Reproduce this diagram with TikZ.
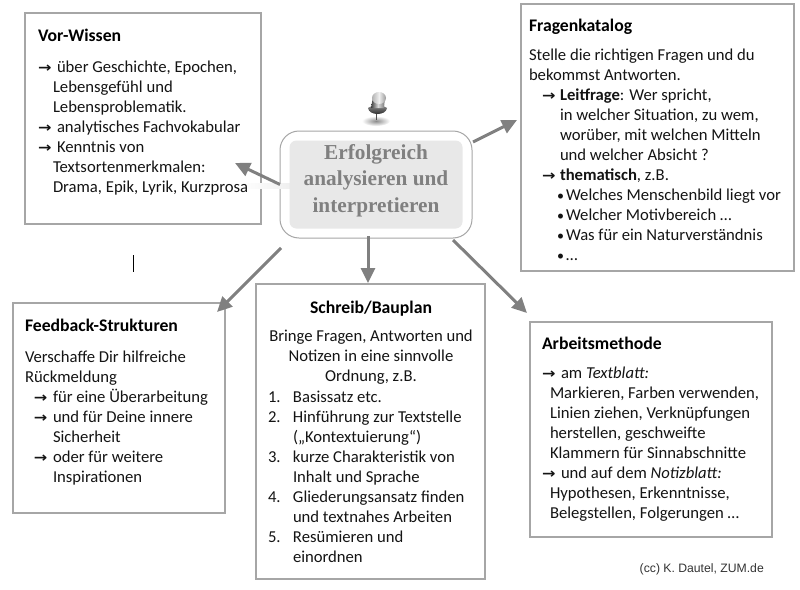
\documentclass[tikz,border=0pt]{standalone}
\usepackage{graphicx}
\usepackage{fontspec}
\usetikzlibrary{arrows.meta,calc}
\setmainfont{Carlito}
\newfontfamily\hubfont{Liberation Serif}
\newfontfamily\arrowfont{DejaVu Sans}
\newfontfamily\ccfont{Liberation Sans}
\definecolor{boxline}{HTML}{A6A6A6}
\definecolor{conn}{HTML}{808080}
\newcommand\arrw[1]{\makebox[#1pt][l]{\scalebox{1.15}[1]{\arrowfont\bfseries\fontsize{14}{20}\selectfont →}}}
\newcommand\bull{\makebox[9pt][l]{\fontsize{14}{20}\selectfont •}}
\newcommand\ind[1]{\hspace*{#1pt}}
\newcommand\numb[1]{\makebox[25pt][l]{#1.}}
\newcommand\blockL[2]{\parbox[t]{#1pt}{\raggedright\hyphenpenalty=10000 #2}}
\newcommand\blockC[2]{\parbox[t]{#1pt}{\centering #2}}
\tikzset{
  x=1pt,y=-1pt,
  box/.style={draw=boxline,line width=1.6pt,fill=white,inner sep=0pt,outer sep=0pt},
  txt/.style={anchor=base west,inner sep=0pt,outer sep=0pt,text=black!92,font=\fontsize{16.65}{20}\selectfont},
  txtc/.style={txt,anchor=base},
  head/.style={txt,font=\fontsize{17.7}{20}\selectfont\bfseries,text=black},
  headc/.style={head,anchor=base},
  conn/.style={draw=conn,line width=3pt,-{Triangle[length=15pt,width=14pt]}},
}
\begin{document}
\begin{tikzpicture}
\useasboundingbox (0,0) rectangle (800,589);
\fill[white] (0,0) rectangle (800,589);
% boxes
\node[box,minimum width=236pt,minimum height=211pt] (vor) at (143,118.5) {};
\node[box,minimum width=273pt,minimum height=267pt] (frag) at (657.5,137.5) {};
\node[box,minimum width=229pt,minimum height=295pt] (plan) at (370.5,431.5) {};
\node[box,minimum width=212pt,minimum height=210pt] (feed) at (119,408) {};
\node[box,minimum width=242pt,minimum height=215pt] (meth) at (651,429.5) {};
% hub
\node[draw=black!35,line width=1pt,fill=white,rounded corners=19pt,minimum width=192pt,minimum height=107pt,inner sep=0pt,outer sep=0pt] (hub) at (376,184.5) {};
\shade[left color=white,right color=black!7] (240,183.5) rectangle (296,188.5);
\node[fill=black!9,rounded corners=7pt,minimum width=173pt,minimum height=88pt,inner sep=0pt,outer sep=0pt] (hubinner) at (hub.center) {};
\node[anchor=base,inner sep=0pt,text=black!50,font=\hubfont\bfseries\fontsize{21.3}{26.5}\selectfont] (hubtext) at (376,159) {\blockC{170}{Erfolgreich\\analysieren und\\interpretieren}};
% pin
\shade[inner color=black!45,outer color=white] (376,121) ellipse (14 and 5);
\fill[black!70] (375.5,113) rectangle (377,120);
\shade[top color=black!40,bottom color=black!90] (368,108) .. controls (373,104) and (382,104) .. (387,108) .. controls (386,116) and (369,116) .. (368,108) -- cycle;
\shade[left color=black!75,right color=black!55,middle color=black!15] (373,97) -- (385,97) -- (384,108) -- (371,108) -- cycle;
\shade[left color=black!30,right color=black!40,middle color=black!6] (379,98) ellipse (7 and 6);
% cursor
\draw[black,line width=1pt] (133.5,255) -- (133.5,272);
% connectors
\draw[conn] (hub.west) -- ($(vor.south east)+(-26,-61)$);
\draw[conn] ($(hub.north east)+(1,11)$) -- ($(frag.west)+(-4,-17.5)$);
\draw[conn] ($(hub.south)+(-8,-2)$) -- ($(plan.north)+(-2.5,-1)$);
\draw[conn] ($(hub.south west)+(1,10)$) -- ($(feed.north east)+(-8,9)$);
\draw[conn] ($(hub.south east)+(-19,2)$) -- ($(meth.north west)+(-3,-9)$);
% Vor-Wissen
\node[head] (vorh) at (38,41) {Vor-Wissen};
\node[txt] (vorb) at (38,72) {\blockL{215}{\arrw{19}über Geschichte, Epochen,\\\ind{15}Lebensgefühl und\\\ind{15}Lebensproblematik.\\\arrw{19}analytisches Fachvokabular\\\arrw{19}Kenntnis von\\\ind{15}Textsortenmerkmalen:\\\ind{15}Drama, Epik, Lyrik, Kurzprosa}};
% Fragenkatalog
\node[head] (fragh) at (529,31) {Fragenkatalog};
\node[txt] (fragb) at (529,60) {\blockL{260}{Stelle die richtigen Fragen und du\\bekommst Antworten.\\\ind{13}\arrw{18}\textbf{Leitfrage}: Wer spricht,\\\ind{31}in welcher Situation, zu wem,\\\ind{31}worüber, mit welchen Mitteln\\\ind{31}und welcher Absicht ?\\\ind{13}\arrw{18}\textbf{thematisch}, z.B.\\\ind{28}\bull Welches Menschenbild liegt vor\\\ind{28}\bull Welcher Motivbereich …\\\ind{28}\bull Was für ein Naturverständnis\\\ind{28}\bull …}};
% Schreib/Bauplan
\node[headc] (planh) at (371,313) {Schreib/Bauplan};
\node[txtc] (planb) at (371,341) {\blockC{215}{Bringe Fragen, Antworten und\\Notizen in eine sinnvolle\\Ordnung, z.B.}};
\node[txt] (planl) at (268,402) {\blockL{212}{\numb{1}Basissatz etc.\\\numb{2}Hinführung zur Textstelle\\\ind{25}(„Kontextuierung“)\\\numb{3}kurze Charakteristik von\\\ind{25}Inhalt und Sprache\\\numb{4}Gliederungsansatz finden\\\ind{25}und textnahes Arbeiten\\\numb{5}Resümieren und\\\ind{25}einordnen}};
% Feedback
\node[head] (feedh) at (25,331) {Feedback-Strukturen};
\node[txt] (feedb) at (25,362) {\blockL{195}{Verschaffe Dir hilfreiche\\Rückmeldung\\\ind{9}\arrw{19}für eine Überarbeitung\\\ind{9}\arrw{19}und für Deine innere\\\ind{28}Sicherheit\\\ind{9}\arrw{19}oder für weitere\\\ind{28}Inspirationen}};
% Arbeitsmethode
\node[head] (methh) at (542,349) {Arbeitsmethode};
\node[txt] (methb) at (542,378) {\blockL{225}{\arrw{19}am \textit{Textblatt:}\\\ind{8}Markieren, Farben verwenden,\\\ind{8}Linien ziehen, Verknüpfungen\\\ind{8}herstellen, geschweifte\\\ind{8}Klammern für Sinnabschnitte\\\arrw{19}und auf dem \textit{Notizblatt:}\\\ind{8}Hypothesen, Erkenntnisse,\\\ind{8}Belegstellen, Folgerungen …}};
% credit
\node[anchor=base east,inner sep=0pt,text=black!80,font=\ccfont\fontsize{12.2}{14}\selectfont] (cc) at (764,572) {(cc) K. Dautel, ZUM.de};
\end{tikzpicture}
\end{document}
